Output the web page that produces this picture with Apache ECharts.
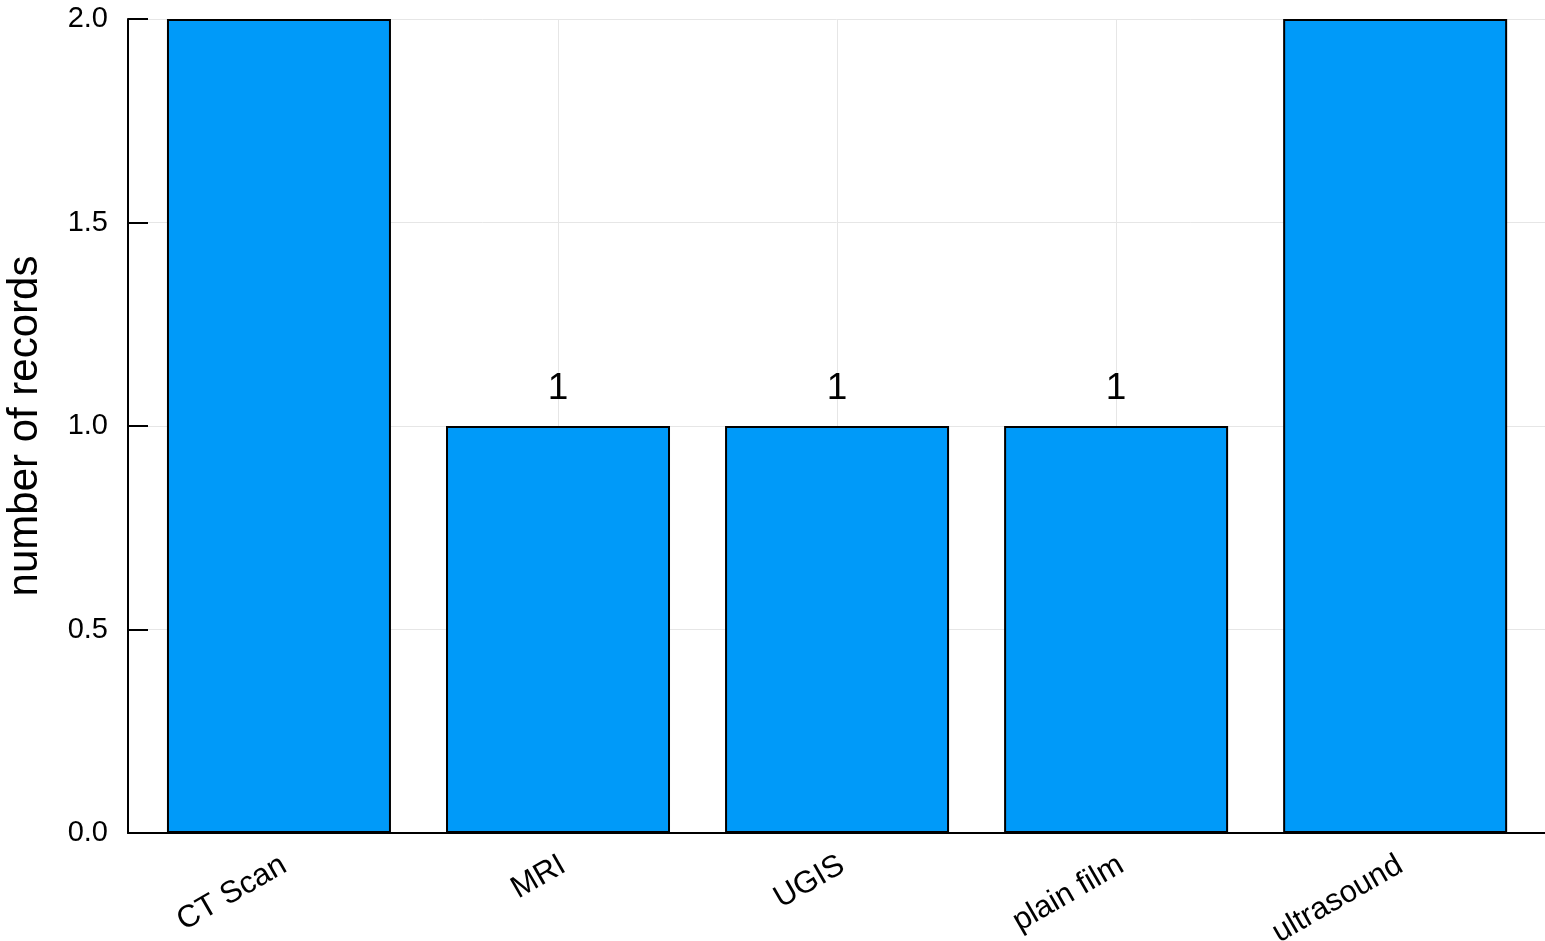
<!DOCTYPE html>
<html>
<head>
<meta charset="utf-8">
<script src="https://cdn.jsdelivr.net/npm/echarts@6/dist/echarts.min.js"></script>
<style>
html,body{margin:0;padding:0;background:#fff;}
#chart{width:1545px;height:941px;}
</style>
</head>
<body>
<div id="chart"></div>
<script>
const categories = ["CT Scan", "MRI", "UGIS", "plain film", "ultrasound"];
const counts = [2, 1, 1, 1, 2];
const yTicks = [0, 0.5, 1, 1.5, 2];
const yLabel = "number of records";

const positions = categories.map((c, i) => i);
const seriesData = counts.map((v, i) => [positions[i], v]);

const chart = echarts.init(document.getElementById('chart'), null, {renderer: 'canvas'});
const font = 'Liberation Sans, Arial, Helvetica, sans-serif';
chart.setOption({
  animation: false,
  backgroundColor: '#ffffff',
  grid: {left: 128, right: 0, top: 19, bottom: 108, containLabel: false, outerBoundsMode: 'none'},
  xAxis: {
    type: 'value',
    min: -0.541,
    max: 4.537,
    axisLine: {show: true, onZero: false, lineStyle: {color: '#000', width: 2}},
    axisTick: {show: false, customValues: positions},
    axisLabel: {
      customValues: positions,
      rotate: 30,
      margin: 33,
      fontSize: 31,
      fontFamily: font,
      color: '#000',
      padding: [0, -6, 0, 0],
      formatter: v => categories[Math.round(v)]
    },
    splitLine: {show: true, customValues: positions, lineStyle: {color: '#e6e6e6', width: 1}}
  },
  yAxis: {
    type: 'value',
    min: 0,
    max: 2,
    interval: 0.5,
    name: yLabel,
    nameLocation: 'middle',
    nameGap: 82,
    nameTextStyle: {fontSize: 42, fontFamily: font, color: '#000'},
    axisLine: {show: true, onZero: false, lineStyle: {color: '#000', width: 2}},
    axisTick: {show: true, inside: true, length: 20, lineStyle: {color: '#000', width: 2}},
    axisLabel: {
      fontSize: 29, fontFamily: font, color: '#000', margin: 20,
      formatter: v => v.toFixed(1),
      customValues: yTicks
    },
    splitLine: {show: true, lineStyle: {color: '#e6e6e6', width: 1}}
  },
  series: [{
    type: 'bar',
    data: seriesData,
    barWidth: 224,
    itemStyle: {color: '#009af9', borderColor: '#000', borderWidth: 2},
    label: {
      show: true,
      position: 'top',
      distance: 19,
      fontSize: 37,
      fontFamily: font,
      color: '#000',
      formatter: p => p.value[1] >= 2 ? '' : String(p.value[1])
    }
  }]
});
</script>
</body>
</html>
